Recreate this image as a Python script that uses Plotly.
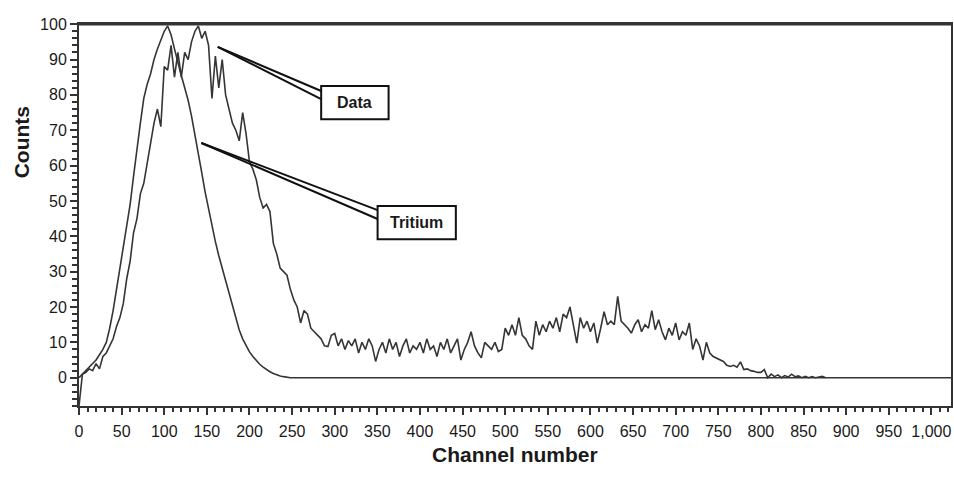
import plotly.graph_objects as go

# ---- data ----
data_channels = list(range(0, 880, 4))
data_counts = [
    -8, 1, 1.5, 2.5, 2, 4, 2.5, 6, 7, 9,
    11, 14.5, 17, 21, 28, 33, 41, 45, 52, 55,
    61, 67, 72, 76, 71, 88, 87, 94, 85, 92,
    85, 92, 90, 95, 98, 99.5, 96, 98, 94, 79,
    91, 82, 90, 80, 76, 72, 70, 67, 75, 69,
    61, 59, 56, 51, 48, 49, 47, 38, 35, 31,
    30, 29, 25, 22, 20, 15.5, 19, 18, 14, 13,
    12, 11, 9, 8.8, 12, 12.5, 9, 11, 8, 10.5,
    9, 11, 7, 10, 8, 11, 9, 4.6, 8, 10,
    7, 11, 8, 10, 6, 9, 11, 7, 9, 8,
    10, 7, 11, 8, 9, 6, 10, 8, 11, 7,
    9, 11, 5, 8, 10, 13, 9, 7, 5.6, 10,
    9, 8, 10, 7.4, 8, 14, 12, 15, 12, 17,
    12, 11, 9, 8, 16, 12, 15, 13, 16, 14,
    17, 13, 18, 17, 20, 15, 9.8, 17, 14, 16,
    13, 15.5, 9.8, 14, 18.7, 15, 16, 15, 23, 16,
    15, 14, 12.6, 15, 16.4, 13, 15, 14, 19, 13.6,
    16.4, 13, 10.7, 14, 12, 15.5, 10.7, 13, 12, 15.5,
    8, 11, 9, 5, 10, 7, 6, 5.5, 5, 4.6,
    3.5, 3.2, 3.5, 3, 4.5, 2.3, 2.5, 2, 1.8, 1.5,
    1.5, 2.3, 0, 1, 0.3, 0.8, 0, 0.6, 0.2, 1,
    0.3, 0.5, 0, 0.4, 0, 0.3, 0, 0.2, 0.4, 0,
]

tritium_channels = list(range(0, 252, 4)) + [1023]
tritium_counts = [
    0, 1, 2, 3, 4, 5, 6.5, 8, 10, 14,
    19, 25, 31, 36, 42, 49, 57, 65, 72, 79,
    83, 86, 90, 93, 95.5, 98, 99.5, 97, 93, 89,
    85.5, 82, 78.5, 74, 69, 63.5, 58, 52.5, 47.5, 43,
    38.5, 34.5, 31, 27.5, 24, 20.5, 16.5, 13.5, 11, 9,
    7.3, 6, 4.8, 3.8, 3, 2.3, 1.7, 1.2, 0.8, 0.5,
    0.3, 0.1, 0, 0,
]

x_title = "Channel number"
y_title = "Counts"
labels = ["Data", "Tritium"]

# callout geometry (data coordinates)
callout_tips = [(162.7, 93.6), (143.6, 66.4)]
callout_boxes = [(284.1, 73.1, 363.2, 82.5), (350.3, 39.2, 442.1, 48.6)]
callout_ends = [(81.1, 78.8), (47.4, 44.9)]

LINE = "#353535"
TXT = "#1a1a1a"
FONT = "Liberation Sans, Arial, sans-serif"

fig = go.Figure()
fig.add_trace(go.Scatter(x=tritium_channels, y=tritium_counts, mode="lines",
                         line=dict(color=LINE, width=1.6), name="Tritium",
                         showlegend=False))
fig.add_trace(go.Scatter(x=data_channels, y=data_counts, mode="lines",
                         line=dict(color=LINE, width=1.6), name="Data",
                         showlegend=False))

shapes = []
annotations = []
for lab, tip, box, ends in zip(labels, callout_tips, callout_boxes, callout_ends):
    x0, y0, x1, y1 = box
    for ye in ends:
        shapes.append(dict(type="line", xref="x", yref="y", x0=tip[0], y0=tip[1],
                           x1=x0, y1=ye, line=dict(color="#111", width=2)))
    shapes.append(dict(type="rect", xref="x", yref="y", x0=x0, y0=y0, x1=x1, y1=y1,
                       line=dict(color="#111", width=2), fillcolor="white"))
    annotations.append(dict(x=(x0 + x1) / 2, y=(y0 + y1) / 2, xref="x", yref="y",
                            text="<b>%s</b>" % lab, showarrow=False,
                            font=dict(family=FONT, size=16, color=TXT)))

# top frame (thicker)
shapes.append(dict(type="line", xref="paper", yref="paper", x0=0, x1=1, y0=1, y1=1,
                   line=dict(color="#333", width=3)))

annotations.append(dict(x=0.5, y=-0.128, xref="paper", yref="paper", xanchor="center",
                        yanchor="middle", text="<b>%s</b>" % x_title, showarrow=False,
                        font=dict(family=FONT, size=21, color=TXT)))
annotations.append(dict(x=-0.0655, y=0.69, xref="paper", yref="paper", xanchor="center",
                        yanchor="middle", text="<b>%s</b>" % y_title, showarrow=False,
                        textangle=-90, font=dict(family=FONT, size=21, color=TXT)))

fig.update_layout(
    width=954, height=491,
    margin=dict(l=79, r=1, t=24, b=85),
    paper_bgcolor="white", plot_bgcolor="white",
    font=dict(family=FONT, size=16, color=TXT),
    shapes=shapes, annotations=annotations,
    xaxis=dict(range=[0, 1023], tickmode="linear", tick0=0, dtick=50,
               tickformat=",d", showgrid=False, zeroline=False,
               showline=True, linewidth=2, linecolor="#333", mirror=True,
               ticks="outside", ticklen=7, tickwidth=2, tickcolor="#333",
               ticklabelstandoff=3,
               minor=dict(dtick=10, ticks="outside", ticklen=4, tickwidth=2,
                          tickcolor="#333", showgrid=False),
               tickfont=dict(family=FONT, size=16, color=TXT)),
    yaxis=dict(range=[-8, 100.05], tickmode="linear", tick0=0, dtick=10,
               showgrid=False, zeroline=False,
               showline=True, linewidth=2, linecolor="#333", mirror=True,
               ticks="outside", ticklen=7, tickwidth=2, tickcolor="#333",
               minor=dict(dtick=2, ticks="outside", ticklen=5, tickwidth=2,
                          tickcolor="#333", showgrid=False),
               tickfont=dict(family=FONT, size=16, color=TXT)),
)

fig.write_html("out.html")
